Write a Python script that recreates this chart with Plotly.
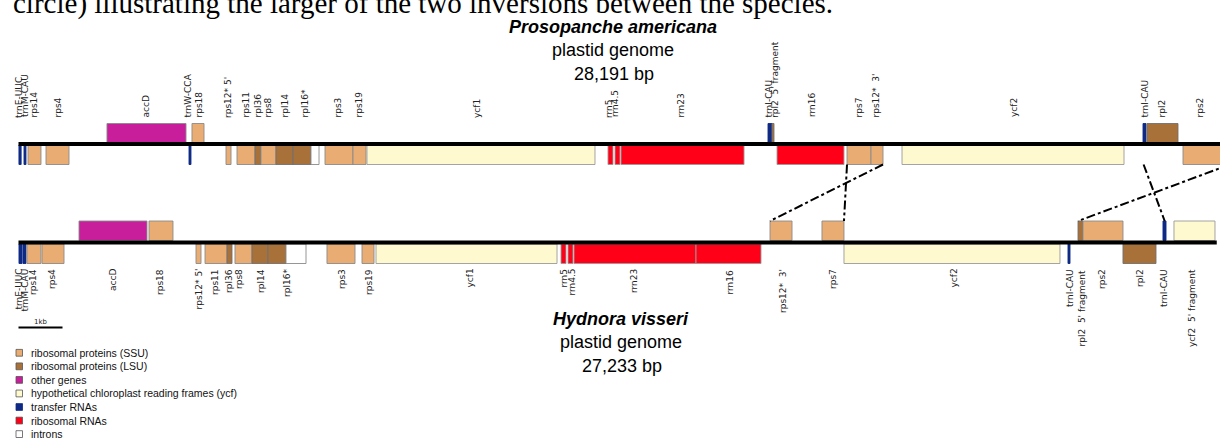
import plotly.graph_objects as go

# ---------------- DATA ----------------
top_len_kb = 28.191
bot_len_kb = 27.233

# Prosopanche americana (top) genes: kb positions, strand (+1 above line, -1 below)
top_name = ["trnE-UUC", "trnM-CAU", "rps14", "rps4", "accD", "trnW-CCA", "rps18", "rps12* 5'",
            "rps11", "rpl36", "rps8", "rpl14", "rpl16*", "rpl16 intron", "rps3", "rps19", "ycf1",
            "rrn5", "rrn4.5", "rrn23", "trnI-CAU", "rpl2 5' fragment", "rrn16", "rps7", "rps12* 3'",
            "ycf2", "trnI-CAU", "rpl2", "rps2"]
top_start = [0.01, 0.125, 0.216, 0.625, 2.011, 3.875, 3.943, 4.716,
             4.966, 5.375, 5.511, 5.852, 6.239, 6.648, 6.966, 7.602, 7.92,
             13.398, 13.557, 13.693, 17.034, 17.125, 17.239, 18.83, 19.375,
             20.08, 25.557, 25.648, 26.466]
top_end = [0.06, 0.17, 0.511, 1.148, 3.807, 3.92, 4.216, 4.83,
           5.375, 5.511, 5.852, 6.239, 6.648, 6.83, 7.602, 7.898, 13.102,
           13.511, 13.67, 16.489, 17.125, 17.17, 18.761, 19.375, 19.648,
           25.125, 25.625, 26.352, 27.534]
top_strand = [-1, -1, -1, -1, 1, -1, 1, -1,
              -1, -1, -1, -1, -1, -1, -1, -1, -1,
              -1, -1, -1, 1, 1, -1, -1, -1,
              -1, 1, 1, -1]
top_cat = ["trna", "trna", "ssu", "ssu", "other", "trna", "ssu", "ssu",
           "ssu", "lsu", "ssu", "lsu", "lsu", "intron", "ssu", "ssu", "ycf",
           "rrna", "rrna", "rrna", "trna", "lsu", "rrna", "ssu", "ssu",
           "ycf", "trna", "lsu", "ssu"]

# Hydnora visseri (bottom) genes
bot_name = ["trnE-UUC", "trnM-CAU", "rps14", "rps4", "accD", "rps18", "rps12* 5'", "rps11",
            "rpl36", "rps8", "rpl14", "rpl16*", "rpl16 intron", "rps3", "rps19", "ycf1",
            "rrn5", "rrn4.5", "rrn23", "rrn16", "rps12* 3'", "rps7", "ycf2", "trnI-CAU",
            "rpl2 5' fragment", "rps2", "rpl2", "trnI-CAU", "ycf2 5' fragment"]
bot_start = [0.011, 0.102, 0.193, 0.534, 1.375, 2.966, 4.034, 4.239,
             4.739, 4.92, 5.307, 5.67, 6.08, 7.011, 7.807, 8.125,
             12.33, 12.489, 12.625, 15.398, 17.08, 18.261, 18.761, 23.852,
             24.08, 24.193, 25.102, 26.011, 26.261]
bot_end = [0.08, 0.17, 0.511, 1.034, 2.92, 3.511, 4.148, 4.739,
           4.852, 5.307, 5.67, 6.08, 6.534, 7.648, 8.08, 12.239,
           12.443, 12.602, 15.398, 16.875, 17.58, 18.761, 23.67, 23.898,
           24.193, 25.102, 25.852, 26.08, 27.193]
bot_strand = [-1, -1, -1, -1, 1, 1, -1, -1,
              -1, -1, -1, -1, -1, -1, -1, -1,
              -1, -1, -1, -1, 1, 1, -1, -1,
              1, 1, -1, 1, 1]
bot_cat = ["trna", "trna", "ssu", "ssu", "other", "ssu", "ssu", "ssu",
           "lsu", "ssu", "lsu", "lsu", "intron", "ssu", "ssu", "ycf",
           "rrna", "rrna", "rrna", "rrna", "ssu", "ssu", "ycf", "trna",
           "lsu", "ssu", "lsu", "trna", "ycf"]

# gene labels (text, kb position)
top_label_text = ["trnE-UUC", "trnM-CAU", "rps14", "rps4", "accD", "trnW-CCA", "rps18", "rps12* 5'",
                  "rps11", "rpl36", "rps8", "rpl14", "rpl16*", "rps3", "rps19", "ycf1", "rrn5",
                  "rrn4.5", "rrn23", "trnI-CAU", "rpl2  5' fragment", "rrn16", "rps7", "rps12*  3'",
                  "ycf2", "trnI-CAU", "rpl2", "rps2"]
top_label_pos = [0.011, 0.148, 0.33, 0.875, 2.875, 3.852, 4.08, 4.761,
                 5.17, 5.443, 5.648, 6.034, 6.511, 7.261, 7.716, 10.42, 13.42,
                 13.557, 15.034, 17.034, 17.19, 18.034, 19.1, 19.466,
                 22.625, 25.58, 25.966, 26.83]
bot_label_text = ["trnE-UUC", "trnM-CAU", "rps14", "rps4", "accD", "rps18", "rps12* 5'", "rps11",
                  "rpl36", "rps8", "rpl14", "rpl16*", "rps3", "rps19", "ycf1", "rrn5", "rrn4.5",
                  "rrn23", "rrn16", "rps12*  3'", "rps7", "ycf2", "trnI-CAU", "rpl2  5' fragment",
                  "rps2", "rpl2", "trnI-CAU", "ycf2  5' fragment"]
bot_label_pos = [-0.011, 0.125, 0.33, 0.761, 2.148, 3.216, 4.08, 4.466,
                 4.784, 5.011, 5.511, 6.102, 7.352, 7.966, 10.24, 12.375, 12.557,
                 13.989, 16.17, 17.375, 18.511, 21.239, 23.898, 24.17,
                 24.625, 25.489, 26.034, 26.67]

# inversion links: (top kb, bottom kb)
link_top = [19.648, 18.83, 25.57, 27.534]
link_bot = [17.08, 18.761, 26.05, 24.08]

legend_cats = ["ssu", "lsu", "other", "ycf", "trna", "rrna", "intron"]
legend_text = ["ribosomal proteins (SSU)", "ribosomal proteins (LSU)", "other genes",
               "hypothetical chloroplast reading frames (ycf)", "transfer RNAs",
               "ribosomal RNAs", "introns"]

scale_bar_kb = 1.0

# ---------------- STYLE ----------------
COLORS = {"ssu": "#E9AD73", "lsu": "#A9713A", "other": "#C81E9B", "ycf": "#FFF9CF",
          "trna": "#0F2A85", "rrna": "#FF0018", "intron": "#FFFFFF"}
EDGES = {"ssu": "#8a8a8a", "lsu": "#6f6f6f", "other": "#8a8a8a", "ycf": "#9a9a9a",
         "trna": "#0F2A85", "rrna": "#9a9a9a", "intron": "#8a8a8a"}

W, H = 1220, 439
PX0 = 18.5          # pixel where genome position 0 sits
PXKB = 44.0         # pixels per kb
X_RANGE = [(0 - PX0) / PXKB, (W - PX0) / PXKB]

TOP_LINE, BOT_LINE = 144.0, 242.5
BOX_H = 19.5
TOP_ABOVE, TOP_BELOW = 123.5, 145.0
BOT_ABOVE, BOT_BELOW = 221.0, 244.0
TOP_LABEL_Y, BOT_LABEL_Y = 118.5, 268.0
LINK_Y0, LINK_Y1 = 164.5, 221.0

fig = go.Figure()


def gene_trace(start, end, strand, cat, y_above, y_below):
    return go.Bar(
        x=[(s + e) / 2 for s, e in zip(start, end)],
        width=[e - s for s, e in zip(start, end)],
        base=[y_above if st > 0 else y_below for st in strand],
        y=[BOX_H] * len(start),
        marker=dict(color=[COLORS[c] for c in cat],
                    line=dict(color=[EDGES[c] for c in cat], width=0.9)),
        showlegend=False, hoverinfo="skip")


fig.add_trace(gene_trace(top_start, top_end, top_strand, top_cat, TOP_ABOVE, TOP_BELOW))
fig.add_trace(gene_trace(bot_start, bot_end, bot_strand, bot_cat, BOT_ABOVE, BOT_BELOW))

# genome backbones
fig.add_trace(go.Scatter(x=[0, top_len_kb], y=[TOP_LINE, TOP_LINE], mode="lines",
                         line=dict(color="black", width=4), showlegend=False, hoverinfo="skip"))
fig.add_trace(go.Scatter(x=[0, bot_len_kb], y=[BOT_LINE, BOT_LINE], mode="lines",
                         line=dict(color="black", width=4), showlegend=False, hoverinfo="skip"))

# inversion links
for t, b in zip(link_top, link_bot):
    fig.add_trace(go.Scatter(x=[t, b], y=[LINK_Y0, LINK_Y1], mode="lines",
                             line=dict(color="black", width=2, dash="dashdot"),
                             showlegend=False, hoverinfo="skip"))

# scale bar
fig.add_trace(go.Scatter(x=[0, scale_bar_kb], y=[327.5, 327.5], mode="lines",
                         line=dict(color="black", width=2), showlegend=False, hoverinfo="skip"))

ann = []
ann.append(dict(x=scale_bar_kb / 2, y=321.5, xref="x", yref="y", text="1kb", showarrow=False,
                font=dict(family="DejaVu Sans", size=7, color="#222")))

lab_font = dict(family="DejaVu Sans", size=9, color="#222")
for t, p in zip(top_label_text, top_label_pos):
    ann.append(dict(x=p, y=TOP_LABEL_Y, xref="x", yref="y", text=t, textangle=-90,
                    xanchor="center", yanchor="bottom", showarrow=False, font=lab_font,
                    borderpad=0))
for t, p in zip(bot_label_text, bot_label_pos):
    ann.append(dict(x=p, y=BOT_LABEL_Y, xref="x", yref="y", text=t, textangle=-90,
                    xanchor="center", yanchor="top", showarrow=False, font=lab_font,
                    borderpad=0))

# titles
sans = "Liberation Sans"
for txt, x, y in [("<b><i>Prosopanche americana</i></b>", 612.5, 26.5),
                  ("plastid genome", 612.5, 50),
                  ("28,191 bp", 613.5, 73.5),
                  ("<b><i>Hydnora visseri</i></b>", 620.5, 318.5),
                  ("plastid genome", 621, 342),
                  ("27,233 bp", 622, 365.5)]:
    ann.append(dict(x=x / W, y=y, xref="paper", yref="y", text=txt, showarrow=False,
                    xanchor="center", yanchor="middle",
                    font=dict(family=sans, size=18, color="black")))

# cut-off caption line at the very top
ann.append(dict(x=11 / W, y=3.5, xref="paper", yref="y",
                text="circle) illustrating the larger of the two inversions between the species.",
                showarrow=False, xanchor="left", yanchor="middle",
                font=dict(family="Liberation Serif", size=29, color="black")))

# legend
shapes = []
for i, (c, t) in enumerate(zip(legend_cats, legend_text)):
    yc = 352.8 + i * 13.55
    shapes.append(dict(type="rect", xref="paper", yref="y", x0=16 / W, x1=22.5 / W,
                       y0=yc - 3.4, y1=yc + 3.4, fillcolor=COLORS[c],
                       line=dict(color="#555" if c != "trna" else COLORS[c], width=0.8)))
    ann.append(dict(x=29 / W, y=yc, xref="paper", yref="y", text=t, showarrow=False,
                    xanchor="left", yanchor="middle",
                    font=dict(family=sans, size=10.5, color="#111")))

fig.update_layout(
    width=W, height=H, margin=dict(l=0, r=0, t=0, b=0),
    paper_bgcolor="white", plot_bgcolor="white",
    barmode="overlay", hovermode=False,
    xaxis=dict(range=X_RANGE, visible=False, fixedrange=True),
    yaxis=dict(range=[H, 0], visible=False, fixedrange=True),
    annotations=ann, shapes=shapes,
)

fig.write_html("out.html", config={"displayModeBar": False, "staticPlot": True},
               post_script="document.body.style.margin='0';document.body.style.overflow='hidden';")
